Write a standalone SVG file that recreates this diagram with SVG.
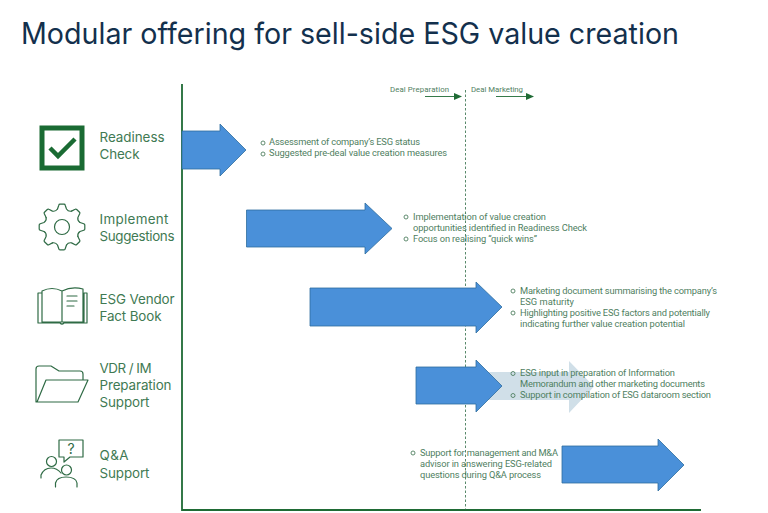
<svg xmlns="http://www.w3.org/2000/svg" width="768" height="513" viewBox="0 0 768 513">
<style>
text{font-family:Inter,"Liberation Sans",sans-serif}
.t{font-size:29.500px;fill:#13304d;font-weight:400}
.l{font-size:13.400px;fill:#3f7a53}
.b{font-family:Roboto,"Liberation Sans",sans-serif;font-size:9.300px;fill:#4f8061}
.h{font-family:Roboto,"Liberation Sans",sans-serif;font-size:7.800px;fill:#4f8061}
.o{fill:none;stroke:#4f8061;stroke-width:.9}
.a{fill:#4a90d9;stroke:#2f6d9e;stroke-width:.8}
.i{fill:none;stroke:#2f6b45;stroke-width:1.2;stroke-linejoin:round;stroke-linecap:round}
.ax{stroke:#1f6b35;stroke-width:1.8;fill:none}
.g{stroke:#1f6b35;stroke-width:.9;fill:none}
</style>
<defs>
<marker id="m" markerWidth="8" markerHeight="7" refX="7" refY="3.500" orient="auto" markerUnits="userSpaceOnUse"><path d="M0 0L8 3.500L0 7Z" fill="#1f6b35"/></marker>
<path id="tooth" class="i" d="M57.500 209L58.800 205.200Q59 204.200 60 204.200H64Q65 204.200 65.200 205.200L66.500 209Q68.300 211.800 71.500 211.100"/>
</defs>
<rect width="768" height="513" fill="#fff"/>
<text class="t" x="21" y="44" textLength="658" lengthAdjust="spacingAndGlyphs">Modular offering for sell-side ESG value creation</text>
<g id="connectors">
<path class="ax" d="M182 84V510H701"/>
<path d="M465.500 90V510" stroke="#2f6b45" stroke-width=".8" stroke-dasharray="2.500 2" fill="none"/>
<path class="g" d="M425 96.500H461" marker-end="url(#m)"/>
<path class="g" d="M496 96.500H533" marker-end="url(#m)"/>
</g>
<g id="timeline-labels">
<text class="h" x="390" y="91.500" textLength="59">Deal Preparation</text>
<text class="h" x="471" y="91.500" textLength="52">Deal Marketing</text>
</g>
<g id="ghost-arrow"><path d="M486 372H569V361L594 386.500L569 413V400H486Z" fill="#d0dfe8"/></g>
<g id="readiness">
<path class="a" d="M182 131H220V124L246 150L220 176V169H182Z"/>
<rect x="42" y="128" width="40" height="40" fill="none" stroke="#1a6b33" stroke-width="5"/>
<path d="M50 148L58 156L75 139" fill="none" stroke="#1a6b33" stroke-width="4.500"/>
<text class="l" x="99.500" y="141.500" textLength="65">Readiness</text><text class="l" x="99.500" y="159" textLength="40">Check</text>
<circle class="o" cx="263" cy="143" r="2"/><circle class="o" cx="263" cy="154" r="2"/>
<text class="b" x="269" y="145.300" textLength="151">Assessment of company’s ESG status</text>
<text class="b" x="269" y="156.300" textLength="178">Suggested pre-deal value creation measures</text>
</g>
<g id="implement">
<path class="a" d="M246.500 210H365V203L392 228.500L365 254V247H246.500Z"/>
<use href="#tooth"/><use href="#tooth" transform="rotate(45 62 227)"/><use href="#tooth" transform="rotate(90 62 227)"/><use href="#tooth" transform="rotate(135 62 227)"/><use href="#tooth" transform="rotate(180 62 227)"/><use href="#tooth" transform="rotate(225 62 227)"/><use href="#tooth" transform="rotate(270 62 227)"/><use href="#tooth" transform="rotate(315 62 227)"/>
<circle class="i" cx="62" cy="227" r="7.500"/>
<text class="l" x="99.500" y="223.500" textLength="69">Implement</text><text class="l" x="99.500" y="241" textLength="75">Suggestions</text>
<circle class="o" cx="406" cy="217" r="2"/><circle class="o" cx="406" cy="239" r="2"/>
<text class="b" x="413" y="219.700" textLength="133">Implementation of value creation</text>
<text class="b" x="413" y="230.700" textLength="174">opportunities identified in Readiness Check</text>
<text class="b" x="413" y="241.700" textLength="124">Focus on realising “quick wins”</text>
</g>
<g id="vendor">
<path class="a" d="M310 288H476V282L502 307L476 333V326H310Z"/>
<path class="i" d="M42 293V322H84V293M42 293H38V323H60Q62 325 64 323H87V293H84M42 293V291Q52 286 62 291V322M62 291Q72 286 83 289V322M67 296H77M67 301H77M67 306H74"/>
<text class="l" x="99.500" y="303.500" textLength="75">ESG Vendor</text><text class="l" x="99.500" y="321" textLength="62">Fact Book</text>
<circle class="o" cx="513" cy="291" r="2"/><circle class="o" cx="513" cy="313" r="2"/>
<text class="b" x="520" y="294" textLength="197">Marketing document summarising the company’s</text>
<text class="b" x="520" y="305.300" textLength="54">ESG maturity</text>
<text class="b" x="520" y="316.300" textLength="190">Highlighting positive ESG factors and potentially</text>
<text class="b" x="520" y="327.300" textLength="165">indicating further value creation potential</text>
</g>
<g id="vdr">
<path class="a" d="M416 367H476V360L502 386L476 412V404H416Z"/>
<path class="i" d="M36 402V369Q36 366 39 366H51L59 371H80Q83 371 83 374V380M37 402L46 380H88L78 402Z"/>
<text class="l" x="99.500" y="372.500" textLength="52">VDR / IM</text><text class="l" x="99.500" y="390" textLength="72">Preparation</text><text class="l" x="99.500" y="407" textLength="50">Support</text>
<circle class="o" cx="513" cy="373.500" r="2"/><circle class="o" cx="513" cy="395.500" r="2"/>
<text class="b" x="520" y="376.300" textLength="155">ESG input in preparation of Information</text>
<text class="b" x="520" y="387.300" textLength="185">Memorandum and other marketing documents</text>
<text class="b" x="520" y="398.300" textLength="191">Support in compilation of ESG dataroom section</text>
</g>
<g id="qa">
<path class="a" d="M562 446H658V439L684 465L658 491V483H562Z"/>
<path class="i" d="M59 440H83V457H70L64 462V457H59Z"/>
<text x="71" y="454" font-size="14" fill="#2f6b45" text-anchor="middle">?</text>
<circle class="i" cx="51.500" cy="461.500" r="5"/><circle class="i" cx="66.500" cy="470" r="5"/>
<path class="i" d="M41 478V475Q44 468 51 468Q57 468 61 473M55.500 487V483Q57 477 66 477Q76 477 77 483V487"/>
<text class="l" x="99.500" y="460" textLength="29">Q&amp;A</text><text class="l" x="99.500" y="477.500" textLength="50">Support</text>
<circle class="o" cx="413" cy="453" r="2"/>
<text class="b" x="420" y="455.700" textLength="138">Support for management and M&amp;A</text>
<text class="b" x="420" y="466.700" textLength="132">advisor in answering ESG-related</text>
<text class="b" x="420" y="477.700" textLength="121">questions during Q&amp;A process</text>
</g>
</svg>
